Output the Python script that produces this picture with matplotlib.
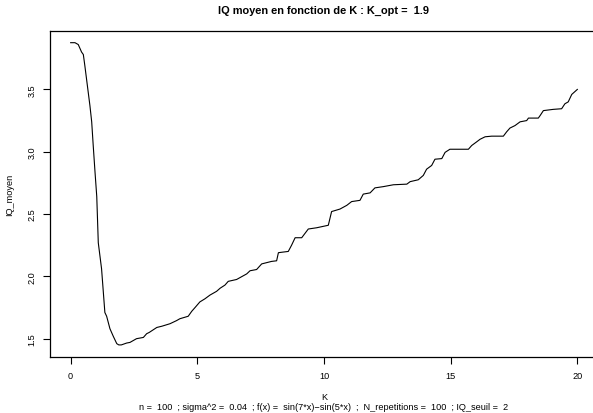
import matplotlib

matplotlib.use("Agg")
import matplotlib.pyplot as plt

# values (K, mean IQ)
K = [0, 0.17, 0.3, 0.43, 0.5, 0.56, 0.76, 0.83, 0.89, 0.96, 1.03, 1.09, 1.22,
     1.35, 1.42, 1.55, 1.68, 1.82, 1.9, 2.0, 2.21, 2.34, 2.6, 2.87, 3.0, 3.1,
     3.4, 3.6, 3.92, 4.18, 4.31, 4.64, 4.78, 4.91, 5.1, 5.3, 5.5, 5.76, 5.9,
     6.09, 6.22, 6.55, 6.95, 7.08, 7.34, 7.54, 7.93, 8.13, 8.2, 8.39, 8.59,
     8.72, 8.86, 9.12, 9.38, 9.71, 10.17, 10.3, 10.63, 10.9, 11.09, 11.42,
     11.55, 11.82, 12.01, 12.34, 12.74, 13.27, 13.4, 13.72, 13.92, 14.05,
     14.25, 14.38, 14.65, 14.78, 14.97, 15.7, 15.83, 16.03, 16.16, 16.36,
     16.62, 17.08, 17.21, 17.34, 17.54, 17.74, 18.0, 18.07, 18.46, 18.53,
     18.66, 19.05, 19.38, 19.51, 19.64, 19.78, 20.0]
iq_moyen = [3.875, 3.875, 3.86, 3.80, 3.78, 3.69, 3.37, 3.24, 3.05, 2.84, 2.64,
            2.27, 2.06, 1.71, 1.68, 1.58, 1.52, 1.46, 1.45, 1.45, 1.465, 1.47,
            1.50, 1.51, 1.54, 1.55, 1.59, 1.60, 1.62, 1.645, 1.66, 1.68, 1.72,
            1.75, 1.795, 1.82, 1.85, 1.88, 1.905, 1.93, 1.96, 1.975, 2.02,
            2.045, 2.055, 2.10, 2.12, 2.125, 2.19, 2.195, 2.20, 2.25, 2.31,
            2.31, 2.38, 2.39, 2.41, 2.52, 2.54, 2.57, 2.60, 2.61, 2.66, 2.67,
            2.71, 2.72, 2.735, 2.74, 2.76, 2.775, 2.81, 2.86, 2.89, 2.94,
            2.945, 2.995, 3.02, 3.02, 3.05, 3.08, 3.10, 3.12, 3.125, 3.125,
            3.16, 3.19, 3.21, 3.24, 3.25, 3.27, 3.27, 3.29, 3.33, 3.34, 3.345,
            3.385, 3.40, 3.46, 3.50]

x_ticks = [0, 5, 10, 15, 20]
y_ticks = [1.5, 2.0, 2.5, 3.0, 3.5]
k_opt = 1.9
title = f"IQ moyen en fonction de K : K_opt =  {k_opt}"
subtitle = ("n =  100  ; sigma^2 =  0.04  ; f(x) =  sin(7*x)\u2212sin(5*x)  ;  "
            "N_repetitions =  100  ; IQ_seuil =  2")

plt.rcParams["font.family"] = ["Liberation Sans", "DejaVu Sans"]

W, H = 593, 414
fs = 6.6
fig = plt.figure(figsize=(W / 100, H / 100), dpi=100)
ax = fig.add_axes([50.4 / W, 56 / H, 547.2 / W, 326.4 / H])

ax.plot(K, iq_moyen, color="black", linewidth=0.8)

# R-style 4% padding
ymin, ymax = min(iq_moyen), max(iq_moyen)
pad = 0.04 * (ymax - ymin)
ax.set_xlim(-0.8, 20.8)
ax.set_ylim(ymin - pad, ymax + pad)

ax.set_xticks(x_ticks)
ax.set_xticklabels([str(t) for t in x_ticks])
ax.set_yticks(y_ticks)
ax.set_yticklabels([f"{t:.1f}" for t in y_ticks], rotation=90, va="center")
ax.tick_params(direction="out", length=5, width=0.8, labelsize=fs,
               pad=5, colors="black")
for sp in ax.spines.values():
    sp.set_linewidth(0.9)

fig.text(324 / W, 1 - 11 / H, title, ha="center", va="center",
         fontsize=fs * 1.2, fontweight="bold")
fig.text(324 / W, 1 - 398 / H, "K", ha="center", va="center", fontsize=fs)
fig.text(324 / W, 1 - 408 / H, subtitle, ha="center", va="center", fontsize=fs)
fig.text(10 / W, 1 - 195 / H, "IQ_moyen", ha="center", va="center",
         rotation=90, fontsize=fs)

fig.savefig("out.png", dpi=100)
